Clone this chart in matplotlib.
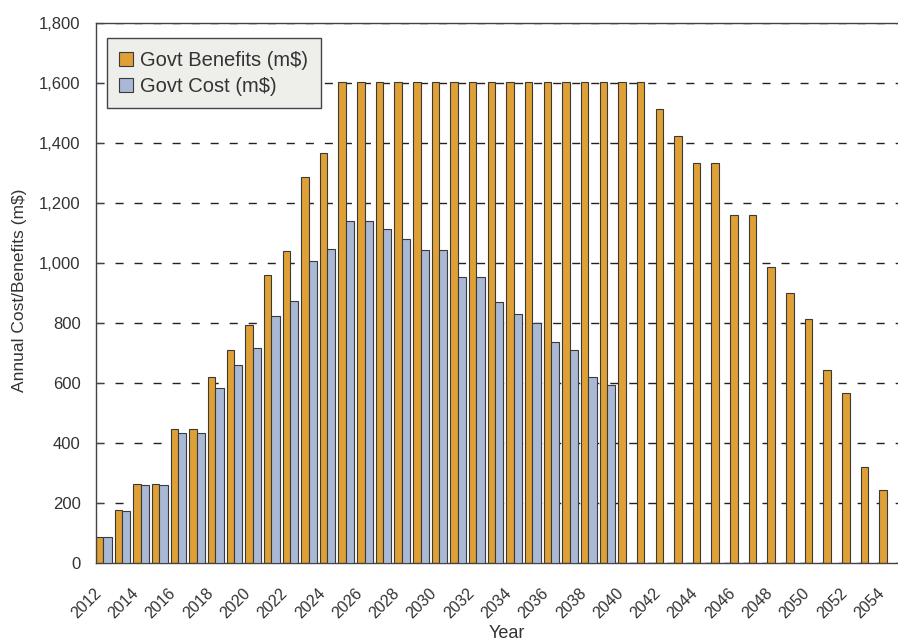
import matplotlib
matplotlib.use('Agg')
import matplotlib.pyplot as plt
import numpy as np
from matplotlib.patches import Patch

# data
years = list(range(2012, 2055))
govt_benefits = [88, 177, 265, 265, 446, 446, 620, 709, 792, 960, 1039, 1287, 1368,
                 1605, 1605, 1605, 1605, 1605, 1605, 1605, 1605, 1605, 1605, 1605, 1605,
                 1605, 1605, 1605, 1605, 1605,
                 1515, 1425, 1335, 1335, 1160, 1160, 988, 900, 812, 645, 568, 320, 242]
govt_cost = [88, 172, 260, 260, 432, 432, 584, 659, 717, 825, 875, 1008, 1047, 1141,
             1141, 1113, 1079, 1043, 1043, 954, 954, 871, 831, 799, 738, 710, 621, 593]
y_ticks = [0, 200, 400, 600, 800, 1000, 1200, 1400, 1600, 1800]

plt.rcParams['font.family'] = ['Liberation Sans', 'DejaVu Sans']

orange = '#DFA035'
blue = '#A9B9D5'
edge = '#3a3a3a'
txt = '#333333'

fig = plt.figure(figsize=(8.98, 6.43), dpi=100)
ax = fig.add_axes([96 / 898, 1 - 563 / 643, 802 / 898, (563 - 23) / 643])

x = np.arange(len(years))
xc = np.arange(len(govt_cost))

# gridlines behind bars
ax.set_axisbelow(True)
ax.yaxis.grid(True, color='#222222', linewidth=1.0, linestyle=(0, (5.8, 7.9)))

ax.bar(x - 0.2, govt_benefits, width=0.4, color=orange, edgecolor=edge, linewidth=0.8,
       zorder=2)
ax.bar(xc + 0.22, govt_cost, width=0.44, color=blue, edgecolor=edge, linewidth=0.8,
       zorder=3)

ax.set_xlim(-0.4, -0.4 + 802 / 18.83)
ax.set_ylim(0, 1800)

ax.set_yticks(y_ticks)
ax.set_yticklabels([f'{v:,}' for v in y_ticks], fontsize=12, color=txt)
ax.tick_params(axis='y', direction='in', length=5, pad=11, color='#444444')

# year labels on every other year, minor ticks at slot boundaries
lab_idx = x[::2]
ax.set_xticks(lab_idx - 0.25)
ax.set_xticklabels([str(years[i]) for i in lab_idx], rotation=45, ha='right',
                   va='center', rotation_mode='anchor', fontsize=11.5, color=txt)
ax.set_xticks(np.append(x - 0.4, x[-1] + 0.6), minor=True)
ax.tick_params(axis='x', which='major', length=0, pad=20)
ax.tick_params(axis='x', which='minor', direction='in', length=4, color='#444444')

for s in ['left', 'top', 'bottom']:
    ax.spines[s].set_color('#444444')
    ax.spines[s].set_linewidth(1.0)
ax.spines['right'].set_visible(False)

ax.set_ylabel('Annual Cost/Benefits (m$)', fontsize=12.5, color=txt)
ax.yaxis.set_label_coords(-0.086, 0.505)
ax.set_xlabel('Year', fontsize=13, color=txt)
ax.xaxis.set_label_coords(0.512, -0.115)

handles = [Patch(facecolor=orange, edgecolor=edge, linewidth=0.8),
           Patch(facecolor=blue, edgecolor=edge, linewidth=0.8)]
leg = ax.legend(handles, ['Govt Benefits (m$)', 'Govt Cost (m$)'], loc='upper left',
                bbox_to_anchor=(0.0135, 0.972), fontsize=14.5, frameon=True, fancybox=False,
                handlelength=0.7, handleheight=0.7, handletextpad=0.35,
                borderpad=0.62, labelspacing=0.35, borderaxespad=0)
leg.get_frame().set_facecolor('#EEEEEA')
leg.get_frame().set_edgecolor('#444444')
leg.get_frame().set_linewidth(1.0)
leg.get_frame().set_alpha(1)
for t in leg.get_texts():
    t.set_color(txt)

plt.savefig('out.png', dpi=100)
